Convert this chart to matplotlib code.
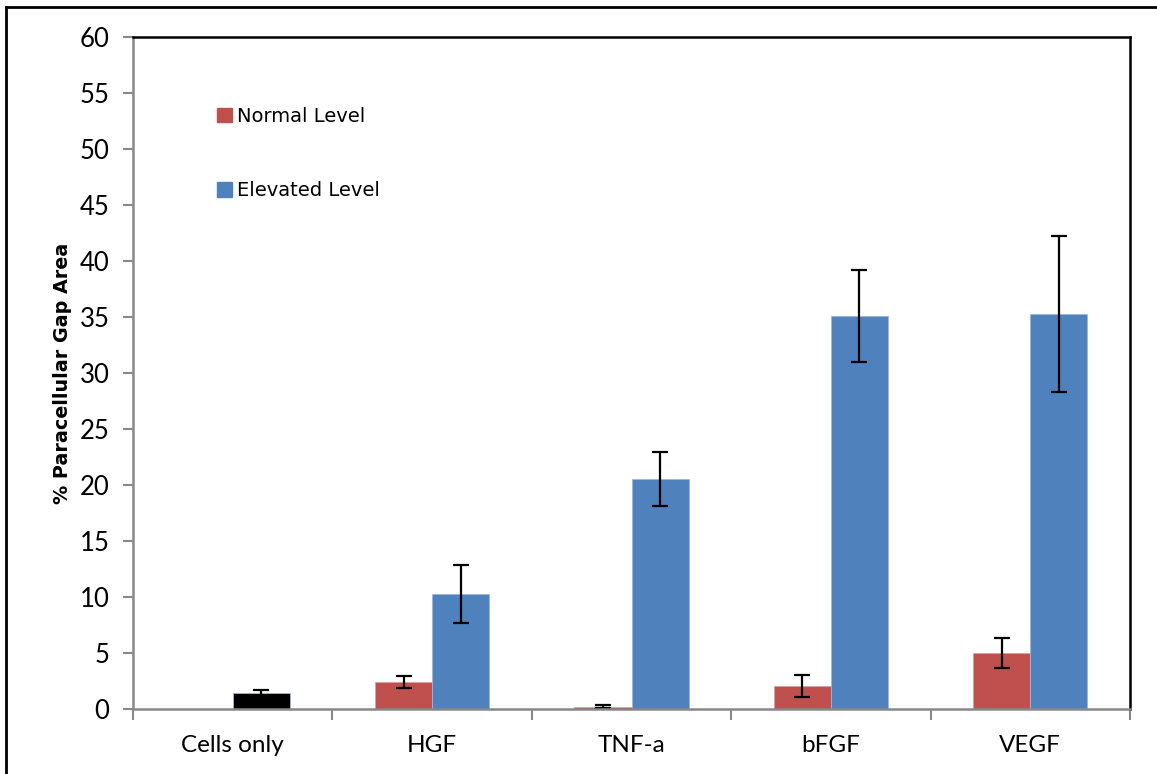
import matplotlib
matplotlib.use("Agg")
import matplotlib.pyplot as plt
import numpy as np

# values
categories = ["Cells only", "HGF", "TNF-a", "bFGF", "VEGF"]
normal_vals = [0.0, 2.4, 0.22, 2.03, 4.97]
normal_err = [0.0, 0.55, 0.1, 1.0, 1.35]
elevated_vals = [1.43, 10.3, 20.56, 35.06, 35.27]
elevated_err = [0.25, 2.6, 2.4, 4.1, 7.0]
bar_colors_elev = ["black", "#4F81BD", "#4F81BD", "#4F81BD", "#4F81BD"]

plt.rcParams['font.family'] = ['Lato', 'DejaVu Sans']

fig = plt.figure(figsize=(11.57, 7.74), dpi=100)
ax = fig.add_axes([133/1157., 1-709/774., (1130-133)/1157., (709-37)/774.])

x = np.arange(len(categories))
w = 0.2865
errkw = dict(ecolor="black", elinewidth=1.6, capsize=5.5, capthick=1.6)

ax.bar(x[1:] - w/2, normal_vals[1:], w, color="#C0504D", edgecolor="#D8A09E", linewidth=0.6,
       yerr=normal_err[1:], error_kw=errkw, zorder=2)
ax.bar(x + w/2, elevated_vals, w, color=bar_colors_elev, edgecolor="#9DB7DA", linewidth=0.6,
       yerr=elevated_err, error_kw=errkw, zorder=2)
# legend proxies
h1 = plt.Rectangle((0, 0), 1, 1, color="#C0504D")
h2 = plt.Rectangle((0, 0), 1, 1, color="#4F81BD")
ax.legend([h1, h2], ["Normal Level", "Elevated Level"], loc="upper left",
          bbox_to_anchor=(0.067, 0.922), frameon=False, handlelength=0.75, handleheight=0.75,
          handletextpad=0.25, labelspacing=2.85,
          prop={'family': ['DejaVu Sans'], 'size': 14})

ax.set_xlim(-0.5, len(categories) - 0.5)
ax.set_ylim(0, 60)
ax.set_yticks(np.arange(0, 61, 5))
ax.set_xticks(x)
ax.set_xticklabels(categories)
ax.set_xticks(np.arange(-0.5, len(categories), 1), minor=True)
ax.tick_params(axis="x", which="major", length=0, pad=19, labelsize=17.5)
ax.tick_params(axis="x", which="minor", length=8, width=1.5, color="#888888", direction="out")
ax.tick_params(axis="y", length=7, width=1.5, color="#888888", direction="out", pad=10, labelsize=18.5)

for s in ["left", "bottom"]:
    ax.spines[s].set_color("#888888")
    ax.spines[s].set_linewidth(1.8)
for s in ["top", "right"]:
    ax.spines[s].set_color("black")
    ax.spines[s].set_linewidth(1.8)

ax.set_ylabel("% Paracellular Gap Area", fontsize=13.8, fontweight="bold", labelpad=5,
              family=['DejaVu Sans'])

# outer frame (top and left edges)
fig.add_artist(plt.Line2D([6/1157., 6/1157.], [0, 1-7/774.], color="black", lw=2,
                          transform=fig.transFigure))
fig.add_artist(plt.Line2D([6/1157., 1], [1-7/774., 1-7/774.], color="black", lw=2,
                          transform=fig.transFigure))

fig.savefig("out.png", dpi=100)
